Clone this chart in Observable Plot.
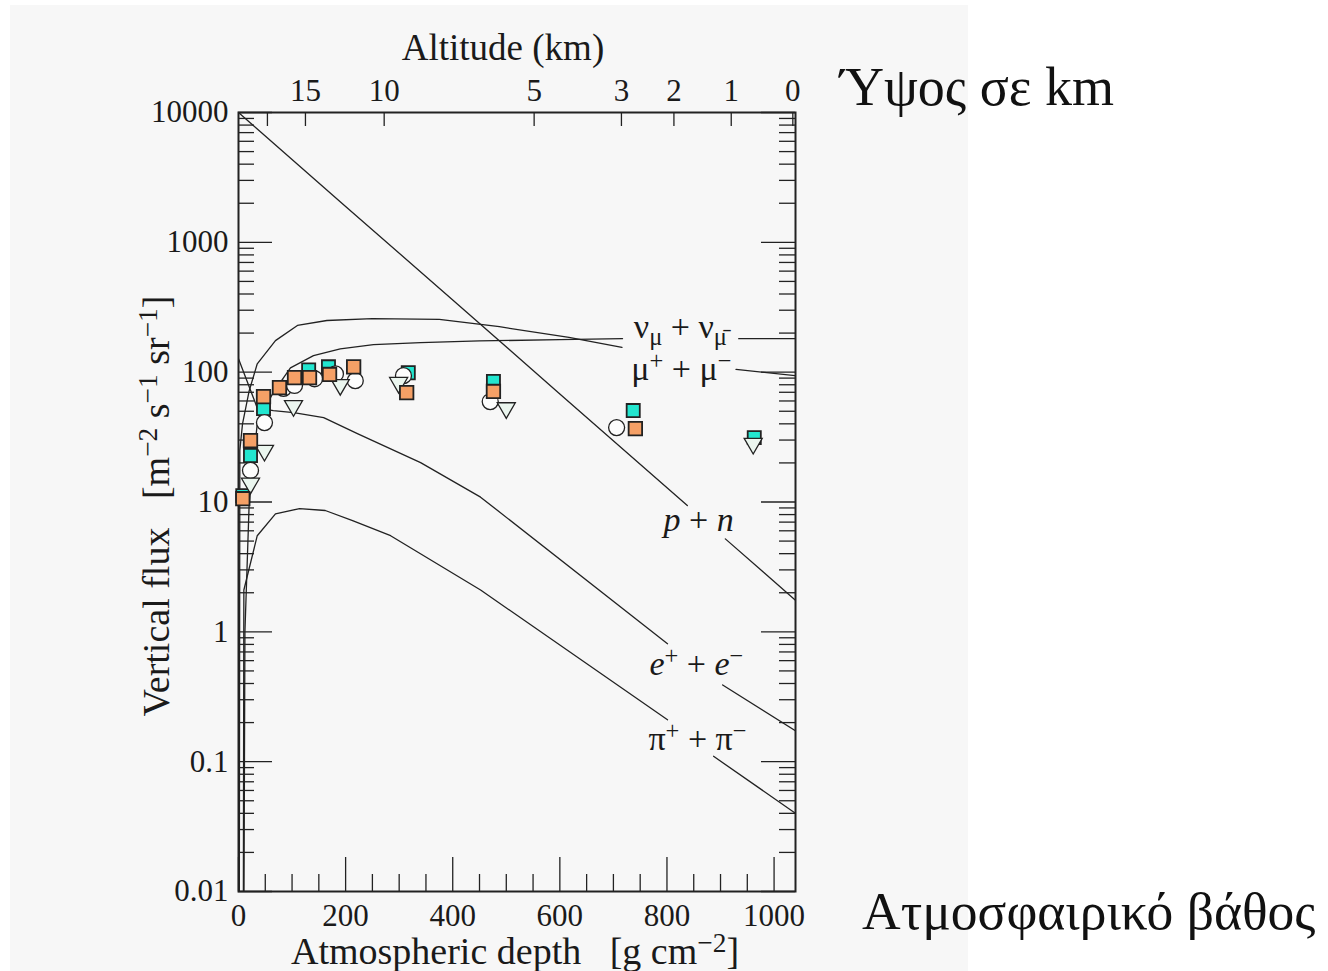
<!DOCTYPE html>
<html>
<head>
<meta charset="utf-8">
<script src="https://cdn.jsdelivr.net/npm/d3@7"></script>
<script src="https://cdn.jsdelivr.net/npm/@observablehq/plot@0.6"></script>
<style>
  body { margin: 0; background: #ffffff; width: 1328px; height: 971px; overflow: hidden; position: relative; font-family: "Liberation Serif", serif; }
  #panel { position: absolute; left: 10px; top: 5px; width: 958px; height: 966px; background: #f7f7f7; }
  #chart { position: absolute; left: 0; top: 0; }
  .note { position: absolute; font-size: 54px; line-height: 1; color: #111; white-space: nowrap; font-family: "Liberation Serif", serif; }
</style>
</head>
<body>
<div id="panel"></div>
<div id="chart"></div>
<div class="note" style="left:840px; top:60px;">Ύψος σε km</div>
<div class="note" style="left:862px; top:885px; font-size:53.5px;">Ατμοσφαιρικό βάθος</div>
<script>
// ---- axis ticks ----
const depthMajor = [0, 200, 400, 600, 800, 1000];
const depthMinor = [50, 100, 150, 250, 300, 350, 450, 500, 550, 650, 700, 750, 850, 900, 950];
const fluxMajor = [0.01, 0.1, 1, 10, 100, 1000, 10000];
const fluxSteps = [2, 3, 4, 5, 6, 7, 8, 9];
const altDepth = [54, 125, 272, 552, 715, 813, 920, 1035];
const altLabel = ["", "15", "10", "5", "3", "2", "1", "0"];

// ---- model curves (depth in g/cm², vertical flux in m⁻² s⁻¹ sr⁻¹); NaN breaks the line under a label ----
const pnDepth = [0, 200, 400, 600, 838, NaN, 909, 1040];
const pnFlux  = [10000, 1890, 360, 68, 9.4, NaN, 5.2, 1.75];

const muDepth = [1.5, 2.5, 7.5, 20, 35, 69, 110, 165, 250, 375, 487, 617, 716, NaN, 929, 1040];
const muFlux  = [0.005, 25, 40, 72, 116, 175, 229, 250, 258, 255, 224, 185, 155, NaN, 105, 94];

const nuDepth = [10, 12, 20, 35, 65, 97, 140, 190, 252, 340, 450, 600, 717, NaN, 934, 1040];
const nuFlux  = [0.005, 1, 10, 40, 70, 108, 134, 151, 163, 169, 174, 178, 181, NaN, 181, 181];

const eDepth = [0, 35, 65, 103, 159, 222, 340, 452, 801, NaN, 904, 1040];
const eFlux  = [127, 53, 50.6, 48.8, 44.7, 33.6, 20.1, 10.9, 0.81, NaN, 0.39, 0.173];

const piDepth = [9, 10, 35, 69, 114, 162, 213, 284, 452, 801, NaN, 887, 1040];
const piFlux  = [0.005, 2.1, 5.5, 8.1, 8.9, 8.6, 7.2, 5.5, 2.1, 0.21, NaN, 0.11, 0.040];

// ---- curve labels ----
const labelText  = ["ν_{μ} + ν_{μ̄}", "μ^{+} + μ^{−}", "*p* + *n*", "*e*^{+} + *e*^{−}", "π^{+} + π^{−}"];
const labelDepth = [825, 827, 859, 855, 857];
const labelFlux  = [222, 106, 7.3, 0.56, 0.148];

// ---- measured μ⁻ fluxes ----
const orangeDepth = [8, 22.4, 46.7, 76.5, 104.6, 132.6, 170, 215, 314, 476, 741];
const orangeFlux  = [10.6, 29.7, 64.9, 76, 90.8, 90.8, 96, 110, 69.6, 71, 36.7];
const cyanDepth = [8, 22.4, 46.7, 131, 168, 317, 476, 737, 963];
const cyanFlux  = [11.2, 22.8, 52.5, 104, 110, 99, 84.7, 50.6, 31.3];
const circleDepth = [22.4, 48.5, 84, 104.6, 142, 181, 218, 308, 470, 706];
const circleFlux  = [17.5, 40.9, 75, 79, 89, 97, 86, 94, 59.4, 37.4];
const triDepth = [22.4, 48.5, 102.7, 190, 299, 500, 961];
const triFlux  = [13.9, 24.9, 55, 80, 83, 53, 28.2];

// ---- layout ----
const W = 820, H = 971;
const M = {left: 238, right: 25, top: 112, bottom: 80};
const innerW = W - M.left - M.right;
const innerH = H - M.top - M.bottom;

const rows = (ds, fs) => ds.map((d, i) => ({depth: d, flux: fs[i]}));
const fluxMinor = fluxMajor.slice(0, -1).flatMap(p => fluxSteps.map(k => k * p));
const altitude = altDepth.map((d, i) => ({depth: d, label: altLabel[i]}));
const labels = labelText.map((t, i) => ({text: t, depth: labelDepth[i], flux: labelFlux[i]}));

// downward-pointing triangle symbol
const triangleDown = {
  draw(ctx, size) {
    const y = Math.sqrt(size / (3 * Math.sqrt(3)));
    const s = Math.sqrt(3) * y;
    ctx.moveTo(0, 2 * y);
    ctx.lineTo(-s, -y);
    ctx.lineTo(s, -y);
    ctx.closePath();
  }
};

const ink = "#222";
const txt = "#1a1a1a";
const lineStyle = {x: "depth", y: "flux", stroke: ink, strokeWidth: 1.3, clip: true};
const fs = 31;

const chart = Plot.plot({
  width: W, height: H,
  marginLeft: M.left, marginRight: M.right, marginTop: M.top, marginBottom: M.bottom,
  style: {background: "transparent", fontFamily: "'Liberation Serif', serif", color: txt, overflow: "visible"},
  x: {domain: [0, 1040], axis: null},
  y: {type: "log", domain: [0.01, 10000], axis: null},
  marks: [
    // inward ticks on all four sides
    Plot.tickY(fluxMinor, {y: d => d, insetRight: innerW - 16, stroke: ink, strokeWidth: 1.3}),
    Plot.tickY(fluxMinor, {y: d => d, insetLeft: innerW - 16, stroke: ink, strokeWidth: 1.3}),
    Plot.tickY(fluxMajor, {y: d => d, insetRight: innerW - 34, stroke: ink, strokeWidth: 1.3}),
    Plot.tickY(fluxMajor, {y: d => d, insetLeft: innerW - 34, stroke: ink, strokeWidth: 1.3}),
    Plot.tickX(depthMinor, {x: d => d, insetTop: innerH - 17, stroke: ink, strokeWidth: 1.3}),
    Plot.tickX(depthMajor, {x: d => d, insetTop: innerH - 34, stroke: ink, strokeWidth: 1.3}),
    Plot.tickX(altitude, {x: "depth", insetBottom: innerH - 14, stroke: ink, strokeWidth: 1.3}),

    // model curves
    Plot.line(rows(pnDepth, pnFlux), lineStyle),
    Plot.line(rows(muDepth, muFlux), lineStyle),
    Plot.line(rows(nuDepth, nuFlux), lineStyle),
    Plot.line(rows(eDepth, eFlux), lineStyle),
    Plot.line(rows(piDepth, piFlux), lineStyle),

    Plot.frame({stroke: ink, strokeWidth: 2}),

    // measurements
    Plot.dot(rows(cyanDepth, cyanFlux), {x: "depth", y: "flux", r: 7.4, symbol: "square", fill: "#22e6cf", stroke: ink, strokeWidth: 1.8}),
    Plot.dot(rows(circleDepth, circleFlux), {x: "depth", y: "flux", r: 8, symbol: "circle", fill: "#fdfdfd", stroke: ink, strokeWidth: 1.3}),
    Plot.dot(rows(triDepth, triFlux), {x: "depth", y: "flux", r: 6.7, symbol: triangleDown, fill: "#ebf6ef", stroke: ink, strokeWidth: 1.3}),
    Plot.dot(rows(orangeDepth, orangeFlux), {x: "depth", y: "flux", r: 7.6, symbol: "square", fill: "#f5a066", stroke: ink, strokeWidth: 1.8}),

    // tick labels
    Plot.text(fluxMajor, {y: d => d, text: d => String(d), frameAnchor: "left", textAnchor: "end", lineAnchor: "middle", dx: -10, fontSize: fs, fill: txt}),
    Plot.text(depthMajor, {x: d => d, text: d => String(d), frameAnchor: "bottom", lineAnchor: "middle", dy: 25, fontSize: fs, fill: txt}),
    Plot.text(altitude, {x: "depth", text: "label", frameAnchor: "top", lineAnchor: "middle", dy: -21, fontSize: fs, fill: txt}),

    // axis titles
    Plot.text(["Altitude (km)"], {frameAnchor: "top", lineAnchor: "middle", dx: -14, dy: -64, fontSize: 37, fill: txt}),
    Plot.text(["Atmospheric depth   [g cm^{−2}]"], {frameAnchor: "bottom", lineAnchor: "middle", dx: -2, dy: 60, fontSize: 38, fill: txt}),
    Plot.text(["Vertical flux   [m^{−2} s^{−1} sr^{−1}]"], {frameAnchor: "left", textAnchor: "middle", lineAnchor: "middle", rotate: -90, dx: -82, dy: 4, fontSize: 38, fill: txt}),

    // curve labels
    Plot.text(labels, {x: "depth", y: "flux", text: "text", lineAnchor: "middle", fontSize: 34, fill: txt})
  ]
});

// turn ^{..}, _{..} and *..* markup into SVG tspans
const NS = "http://www.w3.org/2000/svg";
function richText(el) {
  const src = el.textContent;
  el.textContent = "";
  const re = /(\^\{[^}]*\}|_\{[^}]*\}|\*[^*]*\*)/g;
  let last = 0, m;
  const add = (t, attrs) => {
    const ts = document.createElementNS(NS, "tspan");
    ts.textContent = t;
    for (const k in attrs) ts.setAttribute(k, attrs[k]);
    el.appendChild(ts);
  };
  while ((m = re.exec(src))) {
    if (m.index > last) add(src.slice(last, m.index), {});
    const tok = m[0];
    if (tok[0] === "^") add(tok.slice(2, -1), {"font-size": "72%", "baseline-shift": "0.45em"});
    else if (tok[0] === "_") add(tok.slice(2, -1), {"font-size": "72%", "baseline-shift": "-0.3em"});
    else add(tok.slice(1, -1), {"font-style": "italic"});
    last = m.index + tok.length;
  }
  if (last < src.length) add(src.slice(last), {});
}
d3.select(chart).selectAll("text").each(function () {
  if (/[\^_]\{|\*/.test(this.textContent)) richText(this);
});

document.getElementById("chart").appendChild(chart);
</script>
</body>
</html>
